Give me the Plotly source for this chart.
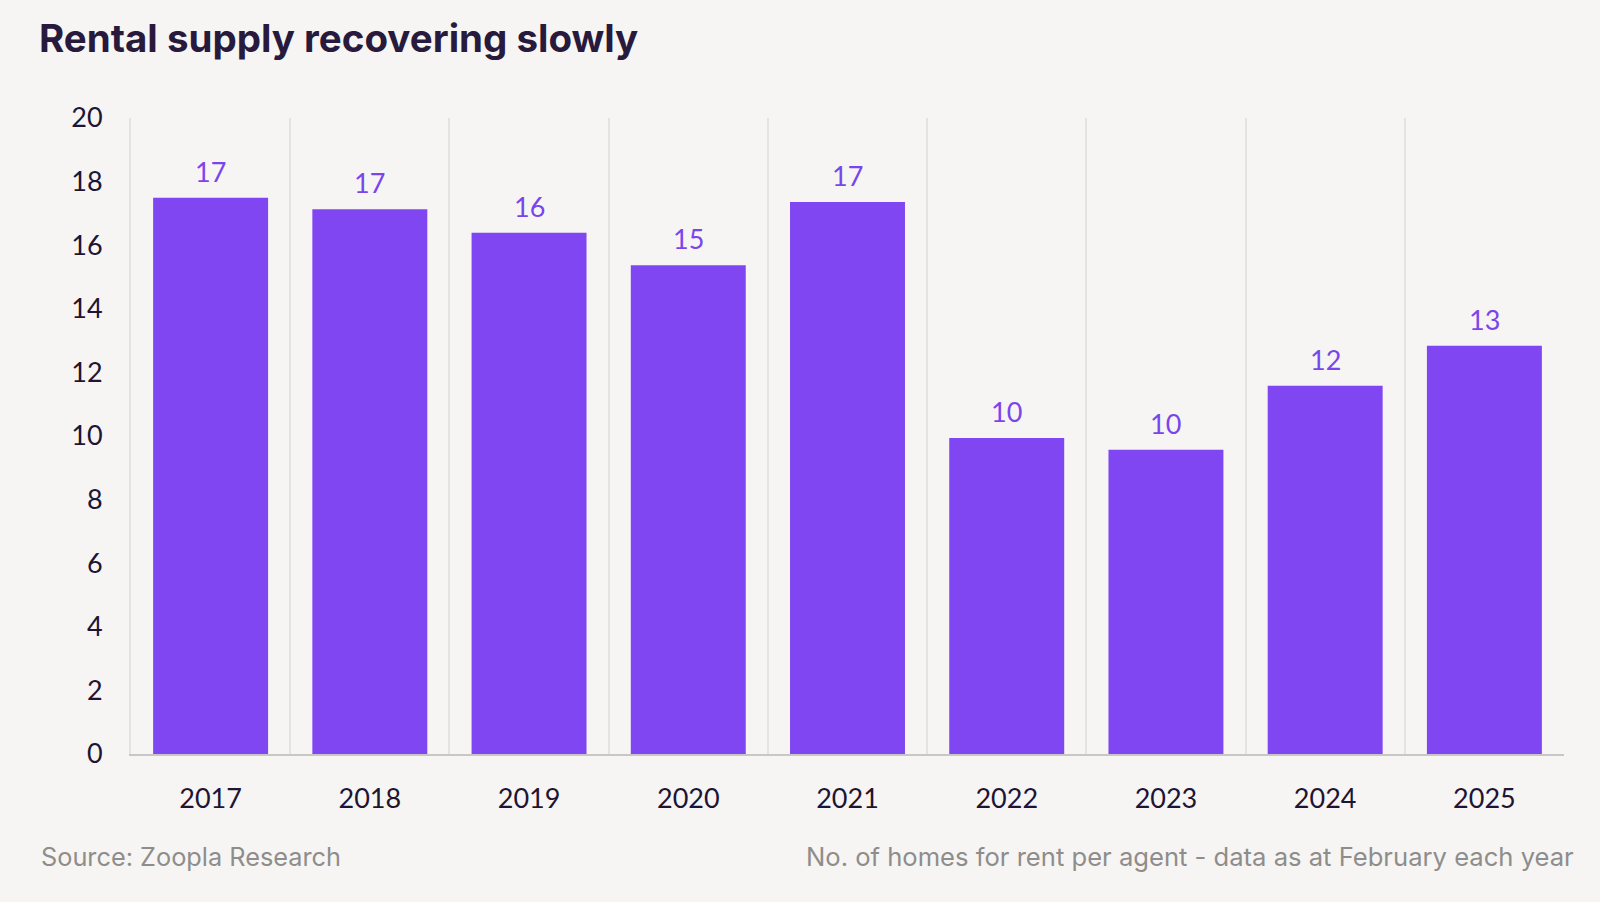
import plotly.graph_objects as go

years = ["2017", "2018", "2019", "2020", "2021", "2022", "2023", "2024", "2025"]
homes_per_agent = [17.49, 17.13, 16.39, 15.37, 17.36, 9.94, 9.57, 11.58, 12.84]
y_ticks = [0, 2, 4, 6, 8, 10, 12, 14, 16, 18, 20]

title_text = "Rental supply recovering slowly"
source_text = "Source: Zoopla Research"
note_text = "No. of homes for rent per agent - data as at February each year"

BAR = "#8046F2"
LABEL = "#7A45EC"
INK = "#1E1433"
BG = "#F6F5F3"
GRID = "#E4E3E1"
FONT = "Lato"

fig = go.Figure()
fig.add_trace(go.Bar(
    x=years, y=homes_per_agent,
    marker=dict(color=BAR, line=dict(width=0)),
    hoverinfo="skip",
))

for i, v in enumerate(homes_per_agent):
    fig.add_annotation(
        x=i, y=v, xref="x", yref="y",
        text=f"{v:.0f}", showarrow=False,
        yanchor="bottom", yshift=8,
        font=dict(family=FONT, size=27, color=LABEL),
    )

fig.add_annotation(
    x=-0.0642, y=-0.1604, xref="paper", yref="paper",
    text=source_text, showarrow=False, xanchor="left", yanchor="middle",
    font=dict(family="Inter", size=25.3, color="#8E8D8B"),
)
fig.add_annotation(
    x=1.0084, y=-0.1604, xref="paper", yref="paper",
    text=note_text, showarrow=False, xanchor="right", yanchor="middle",
    font=dict(family="Inter", size=25.6, color="#8E8D8B"),
)

fig.update_layout(
    width=1600, height=902,
    paper_bgcolor=BG, plot_bgcolor=BG,
    margin=dict(l=131, r=36, t=118, b=148),
    bargap=0.278,
    showlegend=False,
    title=dict(
        text=f"<b>{title_text}</b>",
        x=39 / 1600, xanchor="left", xref="container",
        y=1 - 39 / 902, yanchor="middle", yref="container",
        font=dict(family="Inter", size=38.5, color="#271A3D"),
    ),
    xaxis=dict(
        type="category",
        range=[-0.5, 8.5],
        tickson="boundaries",
        showgrid=True, gridcolor=GRID, gridwidth=2,
        showline=True, linecolor="#C8C7C5", linewidth=2,
        ticks="", ticklabelstandoff=20,
        tickfont=dict(family=FONT, size=27, color=INK),
        zeroline=False,
    ),
    yaxis=dict(
        range=[0, 20],
        tickvals=y_ticks,
        showgrid=False, zeroline=False,
        showline=True, linecolor=GRID, linewidth=2,
        ticks="", ticklabelstandoff=21,
        tickfont=dict(family=FONT, size=27, color=INK),
    ),
)

fig.write_html(
    "out.html",
    config={"displayModeBar": False},
    post_script="document.body.style.margin='0';",
)
